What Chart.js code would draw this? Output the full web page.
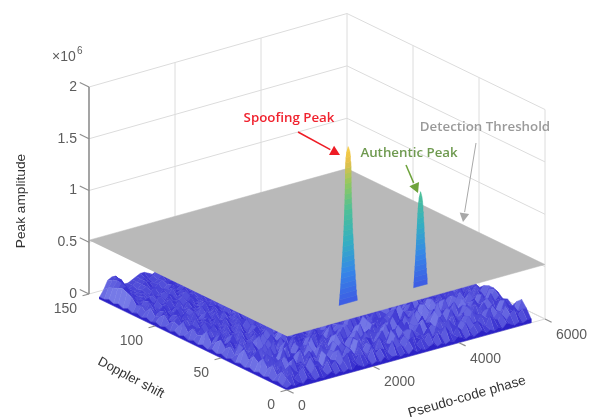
<!DOCTYPE html>
<html>
<head>
<meta charset="utf-8">
<style>
html, body { margin: 0; padding: 0; background: #fff; }
canvas { display: block; filter: blur(0.7px); }
</style>
<script src="https://cdn.jsdelivr.net/npm/chart.js@4/dist/chart.umd.min.js"></script>
</head>
<body>
<canvas id="chart" width="593" height="417"></canvas>
<script>
var phaseTicks = [0, 2000, 4000, 6000];
var dopplerTicks = [0, 50, 100, 150];
var ampTicks = [0, 0.5, 1, 1.5, 2];
var threshold = 0.52;
var noiseMaxPhase = 5675;
var noiseMaxDoppler = 142;

// visible part of the noise floor, units of 2e4, row 0 is doppler 0
// rows past 15 only keep the low code phases, the rest sits under the plane
var noise = [
	[1,2,1,2,1,3,2,1,2,1, 2,3,1,2,1,2,1,3,2,1, 2,1,2,1,3,1,2,2,1,2, 1,3,1,2,1,2,3,1,2,1, 2,1,3,2,1,2,1,2,3,1, 2,1,2,1,3,2,1,2,1,2, 2],
	[1,4,6,3,5,7,4,3,6,5, 3,7,4,6,3,5,8,4,3,6, 5,3,7,4,6,5,3,8,4,5, 3,6,7,3,5,4,7,3,6,4, 8,5,3,6,4,7,3,5,6,4, 3,7,5,4,6,3,5,7,4,6, 6],
	[2,6,3,8,5,3,7,5,9,4, 6,3,8,5,4,9,3,6,7,4, 8,5,3,7,4,9,6,3,5,8, 4,7,3,9,5,6,4,8,3,7, 5,4,9,6,3,7,5,8,4,3, 7,5,9,4,6,3,8,5,7,4, 9],
	[1,3,7,5,4,9,3,6,4,8, 5,3,9,6,4,7,5,3,8,6, 3,9,4,7,5,3,8,6,4,10, 5,3,7,8,4,6,9,3,5,7, 4,8,6,3,9,5,4,7,3,8, 6,4,7,3,8,5,4,9,6,3, 7],
	[2,7,4,9,3,6,8,4,5,3, 9,6,4,10,3,7,5,8,4,6, 3,9,5,4,8,7,3,6,9,4, 5,8,3,6,10,4,7,3,9,5, 6,3,8,5,4,10,6,3,7,9, 4,6,3,9,5,7,4,8,3,5, 4],
	[1,4,9,6,3,8,4,7,3,9, 5,4,7,3,8,6,3,9,5,7, 4,3,8,6,4,9,5,3,7,4, 10,6,3,8,5,3,7,4,6,9, 3,5,10,4,7,3,8,5,4,9, 6,3,8,5,4,9,6,3,7,4, 6],
	[2,8,5,3,7,4,10,5,3,6, 8,4,9,3,6,4,8,5,3,10, 6,4,7,3,9,5,4,8,6,3, 7,5,9,3,6,8,4,5,10,3, 7,4,6,9,3,5,8,4,10,6, 3,7,5,8,3,6,4,9,5,7, 5],
	[1,5,3,8,6,3,7,4,9,5, 3,7,5,4,10,6,3,7,4,8, 3,9,5,4,7,3,10,5,4,8, 6,3,7,4,9,5,3,8,6,4, 9,5,3,7,4,10,3,6,5,8, 4,9,3,6,7,4,8,3,5,9, 7],
	[2,7,9,4,3,9,5,3,6,10, 4,8,3,6,5,9,4,3,8,5, 7,4,6,9,3,5,8,4,3,9, 5,7,4,6,3,8,10,4,6,3, 5,8,4,9,6,3,7,4,9,3, 6,8,4,5,9,3,7,5,4,8, 8],
	[1,4,6,3,8,5,4,10,3,7, 5,3,9,6,3,7,5,8,3,6, 4,10,3,7,5,8,4,3,6,10, 3,5,8,3,7,4,5,9,3,7, 4,6,3,8,5,4,9,3,7,5, 3,8,6,3,5,7,4,8,6,3, 8],
	[2,8,3,7,5,3,8,4,6,3, 9,5,4,7,8,3,6,4,9,5, 3,6,8,4,3,7,5,9,4,3, 8,6,3,9,5,3,6,7,4,9, 3,5,8,4,6,3,8,5,3,7, 4,6,9,3,7,4,5,3,8,5, 7],
	[1,5,7,4,9,6,3,5,8,4, 3,7,5,3,6,9,4,5,3,8, 6,3,5,9,4,6,3,7,5,8, 3,4,7,5,3,8,6,3,5,4, 8,3,6,9,3,5,4,7,6,3, 8,5,3,7,4,8,3,6,4,7, 5],
	[2,3,8,5,3,7,4,9,3,6, 8,4,3,9,5,3,7,6,4,3, 9,5,4,7,3,5,9,3,6,4, 7,5,3,6,8,3,5,4,9,3, 6,5,3,7,4,9,5,3,6,8, 3,5,7,3,6,4,9,3,7,4, 6],
	[1,6,4,3,7,5,3,6,5,8, 3,6,4,7,3,5,8,3,6,5, 3,7,4,3,8,5,3,6,4,7, 5,3,8,4,3,7,5,3,6,8, 4,3,7,5,3,6,4,8,3,5, 7,3,4,8,5,3,6,5,3,6, 5],
	[2,4,7,6,3,8,5,3,7,3, 5,8,3,4,7,3,5,8,3,6, 5,4,8,3,6,3,7,5,3,8, 4,6,3,5,7,3,8,4,3,5, 7,3,8,4,3,7,5,3,6,4, 3,8,5,3,7,4,3,6,5,4, 3],
	[1,7,3,5,8,3,6,4,3,7, 5,3,6,8,3,7,4,3,5,7, 3,6,4,5,3,8,4,3,7,5, 3,6,4,3,8,5,3,6,4,7, 3,5,4,6,3,7,4,5,3,7, 5,3,6,4,3,7,5,3,4,6, 3],
	[2,5,8,3,6,4,3,8,5,3, 6,7,3,5,4,7,3,6],
	[1,3,6,5,3,7,5,3,6,4, 3,7,5,3,6,4,7,3],
	[2,8,4,3,7,3,6,4,3,8, 5,3,4,6,3,7,5,4],
	[1,5,3,7,5,4,3,7,5,3, 6,4,7,3,5,3,6,3],
	[2,4,7,3,4,7,5,3,6,4, 3,7,3,5,6,4,3,5],
	[1,6,3,5,7,3,4,6,3,7, 5,3,6,4,3,7,4,3],
	[2,3,6,4,3,6,5,3,7,3, 5,4,3,7,5,3,5,4],
	[1,7,4,3,7,3,5,6,3,5, 3,7,4,3,5,6,3,4],
	[2,4,3,6,4,5,3,4,7,3, 6,3,5,4,3,6,4,3],
	[1,5,7,3,5,3,7,3,5,4, 3,6,4,3,7,3,5,3],
	[2,3,4,6,3,6,4,5,3,7, 4,3,6,5,3,4,3,5],
	[1,6,3,5,7,3,3,6,4,3, 5,7,3,4,3,6,4,3],
	[2,4,6,3,3,5,6,3,5,4, 3,4,6,3,5,3,3,4],
	[1,3,5,7,4,3,5,4,3,6, 5,3,4,5,3,4,5,3],
	[2,6,4,3,5,6,3,3,6,3, 4,6,3,3,5,4,3,3],
	[1,3,7,4,3,4,5,6,3,4, 6,3,5,4,3,3,5,4],
	[2,5,4,6,3,5,3,4,5,3, 3,5,6,3,4,5,3,3],
	[1,4,3,5,6,3,4,5,3,5, 4,3,4,5,3,3,4,3],
	[2,7,5,3,4,3,5,3,4,5, 3,6,3,4,5,3,3,4],
	[1,8,6,4,3,4,3,5,3,3, 5,4,6,3,4,4,3,3],
	[2,9,9,5,3,3,4,3,4,5, 4,3,5,6,4,3,4,3],
	[1,8,10,8,4,3,3,4,5,4, 3,5,6,5,3,4,5,3],
	[2,7,10,10,6,3,3,3,5,6, 5,4,5,7,5,3,5,4],
	[1,6,9,10,8,4,3,4,5,6, 6,5,6,7,6,4,4,4],
	[1,4,8,9,9,5,4,4,5,6, 7,7,6,5,6,5,4,4]
];

// peak outlines, half width (code chips) at each amplitude level
var peakLevels = [0.30,0.35,0.40,0.45,0.50,0.55,0.60,0.65,0.70,0.75,0.80,0.85,0.90,0.95,1.00,1.05,1.10,1.15,1.20,1.25,1.30,1.35,1.40,1.45,1.50,1.55,1.60,1.65,1.70,1.75,1.80];
var spoofWidth = [215,205,195,185,176,168,160,152,145,138,131,125,118,112,106,101,97,93,89,85,81,78,75,73,72,71,70,65,56,42,6];
var authWidth = [165,157,149,141,133,125,118,111,104,98,92,86,80,74,68,60,50,36,6];
var spoofAt = [2618, 39];
var authAt = [4208, 36];
var ampStops = [0.30, 0.60, 0.90, 1.20, 1.45, 1.65, 1.80];
var ampColors = [[62,90,228],[54,134,232],[52,176,192],[78,192,150],[146,200,96],[228,192,76],[250,206,66]];

// view of the 3d box: floor corners in page pixels
function sx(p, d) { return 287 + p / 6000 * 258 - d / 150 * 198; }
function sy(p, d, z) {
	var a = p / 6000, b = d / 150;
	return (-96 + 71 * a + 96 * b) / 103.5 + z * (1 + 0.012 * a);
}
function pt(p, d, z) { return { x: sx(p, d), y: sy(p, d, z) }; }

var datasets = [];
function addLine(points, color, width) {
	datasets.push({ data: points, showLine: true, fill: false, borderColor: color, borderWidth: width, pointRadius: 0, tension: 0 });
}
function addPoly(points, color) {
	datasets.push({ data: points, showLine: true, fill: 'shape', backgroundColor: color, borderColor: color, borderWidth: 0.5, pointRadius: 0, tension: 0 });
}
function mix(c1, c2, t) {
	return 'rgb(' + [0, 1, 2].map(function (k) { return Math.round(c1[k] + (c2[k] - c1[k]) * t); }).join(',') + ')';
}

var gridColor = '#dcdcdc', axisColor = '#8e8e8e';

// back walls and floor
ampTicks.forEach(function (z) {
	addLine([pt(0, 150, z), pt(6000, 150, z), pt(6000, 0, z)], gridColor, 1);
});
phaseTicks.slice(1).forEach(function (p) {
	addLine([pt(p, 150, 0), pt(p, 150, 2)], gridColor, 1);
	addLine([pt(p, 150, 0), pt(p, 0, 0)], gridColor, 1);
});
dopplerTicks.slice(0, 3).forEach(function (d) {
	addLine([pt(6000, d, 0), pt(6000, d, 2)], gridColor, 1);
	addLine([pt(6000, d, 0), pt(0, d, 0)], gridColor, 1);
});

// noise floor, back to front
var dark = [58, 50, 208], light = [142, 150, 240];
var rows = noise.length, cols = noise[0].length;
function nodeP(i) { return noiseMaxPhase * i / (cols - 1); }
function nodeD(j) { return noiseMaxDoppler * j / (rows - 1); }
function nodeZ(i, j) { return noise[j][i] * 0.02; }
function node(i, j) { return pt(nodeP(i), nodeD(j), nodeZ(i, j)); }
function shade(dz) { return mix(dark, light, Math.max(0, Math.min(0.72, 0.12 + dz * 2.8))); }
for (var j = rows - 2; j >= 0; j--) {
	for (var i = noise[j + 1].length - 2; i >= 0; i--) {
		var h00 = nodeZ(i, j), h10 = nodeZ(i + 1, j), h01 = nodeZ(i, j + 1), h11 = nodeZ(i + 1, j + 1);
		addPoly([node(i, j), node(i + 1, j), node(i + 1, j + 1), node(i, j + 1)], shade(h10 - h00 + h11 - h01));
	}
}
// skirts down to the floor on the two near sides
var skirtColor = 'rgb(44,34,198)';
var skirtA = [], skirtB = [];
for (var k = 0; k < cols; k++) skirtA.push(node(k, 0));
skirtA.push(pt(noiseMaxPhase, 0, 0), pt(0, 0, 0));
addPoly(skirtA, skirtColor);
for (var m = 0; m < rows; m++) skirtB.push(node(0, m));
skirtB.push(pt(0, noiseMaxDoppler, 0), pt(0, 0, 0));
addPoly(skirtB, skirtColor);

// detection threshold plane
addPoly([pt(0, 150, threshold), pt(6000, 150, threshold), pt(6000, 0, threshold), pt(0, 0, threshold)], '#b9b9b9');

// peaks stay visible on top of the plane
function peakColor(z) {
	for (var s = 0; s < ampStops.length - 1; s++) {
		if (z <= ampStops[s + 1]) return mix(ampColors[s], ampColors[s + 1], (z - ampStops[s]) / (ampStops[s + 1] - ampStops[s]));
	}
	return mix(ampColors[6], ampColors[6], 0);
}
function addPeak(at, widths) {
	for (var n = 0; n < widths.length - 1; n++) {
		var z0 = peakLevels[n], z1 = peakLevels[n + 1];
		addPoly([pt(at[0] - widths[n], at[1], z0), pt(at[0] + widths[n], at[1], z0), pt(at[0] + widths[n + 1], at[1], z1), pt(at[0] - widths[n + 1], at[1], z1)], peakColor((z0 + z1) / 2));
	}
}
addPeak(spoofAt, spoofWidth);
addPeak(authAt, authWidth);

// axes and tick marks
addLine([pt(0, 150, 0), pt(0, 150, 2)], axisColor, 1.6);
ampTicks.forEach(function (z) { addLine([pt(0, 150, z), pt(0, 157, z)], axisColor, 1.2); });
dopplerTicks.forEach(function (d) { addLine([pt(0, d, 0), pt(-150, d, 0)], axisColor, 1.2); });
phaseTicks.forEach(function (p) { addLine([pt(p, 0, 0), pt(p, -5, 0)], axisColor, 1.2); });

function arrow(ctx, x0, y0, x1, y1, color, width, head) {
	var ang = Math.atan2(y1 - y0, x1 - x0);
	ctx.strokeStyle = color;
	ctx.fillStyle = color;
	ctx.lineWidth = width;
	ctx.beginPath();
	ctx.moveTo(x0, y0);
	ctx.lineTo(x1 - Math.cos(ang) * head, y1 - Math.sin(ang) * head);
	ctx.stroke();
	ctx.beginPath();
	ctx.moveTo(x1, y1);
	ctx.lineTo(x1 - Math.cos(ang - 0.5) * head, y1 - Math.sin(ang - 0.5) * head);
	ctx.lineTo(x1 - Math.cos(ang + 0.5) * head, y1 - Math.sin(ang + 0.5) * head);
	ctx.closePath();
	ctx.fill();
}
function label(ctx, text, x, y, font, color, align, rot) {
	ctx.save();
	ctx.translate(x, y);
	ctx.rotate((rot || 0) * Math.PI / 180);
	ctx.font = font;
	ctx.fillStyle = color;
	ctx.textAlign = align || 'center';
	ctx.textBaseline = 'middle';
	ctx.fillText(text, 0, 0);
	ctx.restore();
}

var textPlugin = {
	id: 'texts',
	afterDraw: function (chart) {
		var ctx = chart.ctx, xs = chart.scales.x, ys = chart.scales.y;
		var tickFont = '14px "Liberation Sans"', titleFont = '13.7px "Liberation Sans"', noteFont = '600 13.3px "Open Sans"';
		ctx.save();
		dopplerTicks.forEach(function (d) {
			label(ctx, String(d), xs.getPixelForValue(sx(0, d)) - 12, ys.getPixelForValue(sy(0, d, 0)) + 15, tickFont, '#5c5c5c', 'right');
		});
		phaseTicks.forEach(function (p) {
			label(ctx, String(p), xs.getPixelForValue(sx(p, 0)) + 11, ys.getPixelForValue(sy(p, 0, 0)) + 16, tickFont, '#5c5c5c', 'left');
		});
		label(ctx, 'Peak amplitude', 21, 201, titleFont, '#333', 'center', -90);
		label(ctx, 'Doppler shift', 131, 378, '13px "Liberation Sans"', '#333', 'center', 28);
		label(ctx, 'Pseudo-code phase', 467, 397, titleFont, '#333', 'center', -16);
		label(ctx, '\u00d710', 52, 57, tickFont, '#5c5c5c', 'left');
		label(ctx, '6', 77, 51, '10px "Liberation Sans"', '#5c5c5c', 'left');
		label(ctx, 'Spoofing Peak', 289, 118, noteFont, '#f0222e');
		label(ctx, 'Authentic Peak', 409, 153, noteFont, '#6f9a50');
		label(ctx, 'Detection Threshold', 485, 127, noteFont, '#9a9a9a');
		arrow(ctx, 298, 132, 340, 155, '#ee1c25', 1.5, 11);
		arrow(ctx, 406, 165, 418, 193, '#6ea33c', 1.5, 11);
		arrow(ctx, 476, 143, 463, 222, '#a8a8a8', 1, 10);
		ctx.restore();
	}
};

new Chart(document.getElementById('chart').getContext('2d'), {
	type: 'scatter',
	data: { datasets: datasets.reverse() },
	options: {
		responsive: false,
		animation: false,
		events: [],
		layout: { padding: 0, autoPadding: false },
		plugins: { legend: { display: false }, tooltip: { enabled: false } },
		scales: {
			x: { type: 'linear', min: 0, max: 593, display: false },
			y: {
				type: 'linear',
				position: { x: 77 },
				min: -123 / 103.5,
				max: 294 / 103.5,
				grid: { display: false },
				border: { display: false },
				afterBuildTicks: function (scale) {
					scale.ticks = ampTicks.map(function (v) { return { value: v }; });
				},
				afterFit: function (scale) {
					scale.paddingTop = 0;
					scale.paddingBottom = 0;
				},
				ticks: {
					autoSkip: false,
					color: '#5c5c5c',
					font: { family: '"Liberation Sans"', size: 14 },
					callback: function (v) { return String(v); }
				}
			}
		}
	},
	plugins: [textPlugin]
});
</script>
</body>
</html>
